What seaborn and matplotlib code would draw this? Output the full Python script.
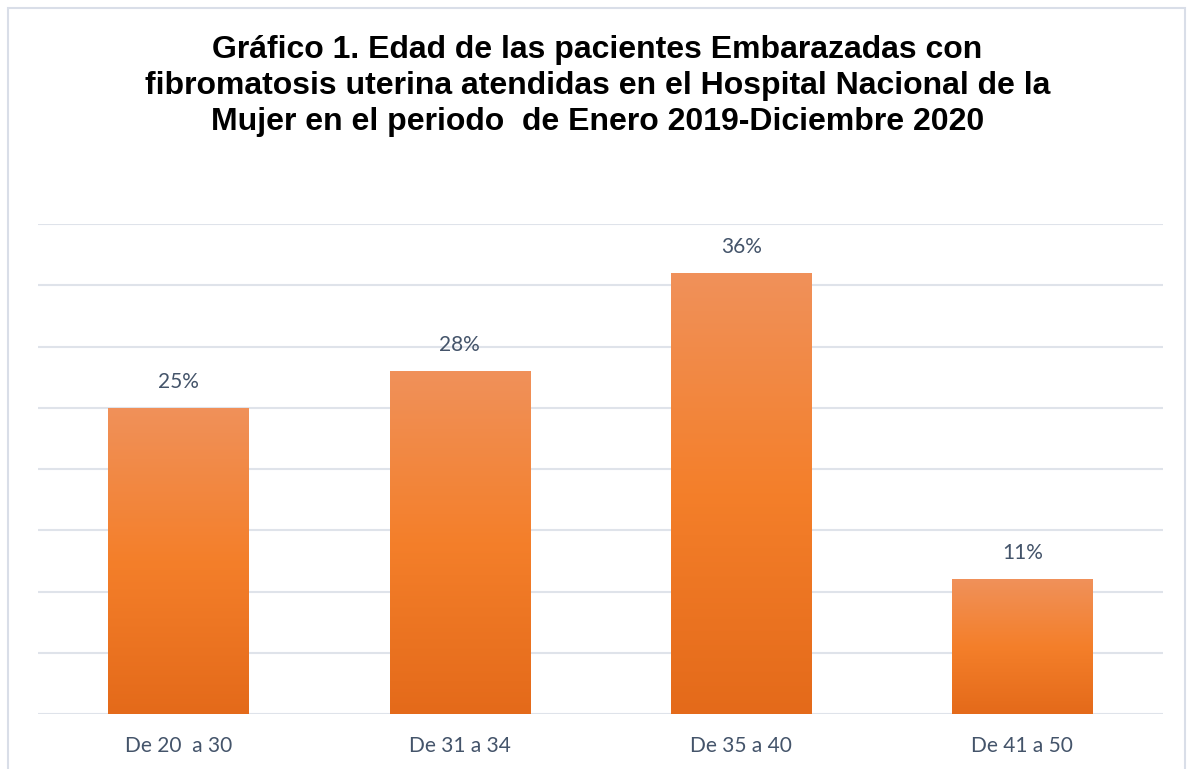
import numpy as np
import pandas as pd
import matplotlib
matplotlib.use("Agg")
import matplotlib.pyplot as plt
import seaborn as sns
from matplotlib.colors import LinearSegmentedColormap
from matplotlib.patches import Rectangle

# datos del grafico
categorias = ["De 20  a 30", "De 31 a 34", "De 35 a 40", "De 41 a 50"]
porcentajes = [25, 28, 36, 11]
etiquetas = ["25%", "28%", "36%", "11%"]
titulo = ("Gráfico 1. Edad de las pacientes Embarazadas con\n"
          "fibromatosis uterina atendidas en el Hospital Nacional de la\n"
          "Mujer en el periodo  de Enero 2019-Diciembre 2020")

df = pd.DataFrame({"Edad": categorias, "Porcentaje": porcentajes})

sns.set_theme(style="white")
plt.rcParams["font.family"] = ["Lato", "DejaVu Sans"]

fig = plt.figure(figsize=(11.95, 7.69), dpi=100)
ax = fig.add_axes([38 / 1195, 55 / 769, 1125 / 1195, 490 / 769])

sns.barplot(data=df, x="Edad", y="Porcentaje", color="#F47F2A", width=0.5,
            ax=ax, zorder=2)

# degradado en cada barra
cmap = LinearSegmentedColormap.from_list("naranja", ["#E46A1A", "#F47F2A", "#F0915A"])
grad = np.linspace(0, 1, 256).reshape(-1, 1)
for bar in ax.patches:
    x0, y0 = bar.get_x(), bar.get_y()
    w, h = bar.get_width(), bar.get_height()
    im = ax.imshow(grad, cmap=cmap, origin="lower", aspect="auto",
                   extent=[x0, x0 + w, y0, y0 + h], zorder=3)
    im.set_clip_path(bar)
    bar.set_alpha(0)

for i, (v, t) in enumerate(zip(porcentajes, etiquetas)):
    ax.text(i, v + 1.3, t, ha="center", va="bottom", fontsize=15, color="#44546A")

ax.set_xlim(-0.5, 3.5)
ax.set_ylim(0, 40)
ax.set_yticks(np.arange(0, 41, 5))
ax.set_yticklabels([])
ax.tick_params(axis="y", length=0)
ax.tick_params(axis="x", length=0, labelsize=15, colors="#44546A", pad=16)
ax.grid(axis="y", color="#DFE3EA", linewidth=1.5, zorder=0)
ax.set_axisbelow(True)
for s in ax.spines.values():
    s.set_visible(False)
ax.set_xlabel("")
ax.set_ylabel("")

fig.text(0.5, 1 - 86 / 769, titulo, ha="center", va="center", fontsize=23,
         fontweight="bold", family=["Liberation Sans", "DejaVu Sans"],
         linespacing=1.25, color="black")

# marco del grafico
fig.patches.append(Rectangle((8 / 1195, -0.02), 1185 / 1195 - 8 / 1195, 1 - 8 / 769 + 0.02,
                             transform=fig.transFigure, fill=False,
                             edgecolor="#D9DEE8", linewidth=1.5))

fig.savefig("out.png", dpi=100)
